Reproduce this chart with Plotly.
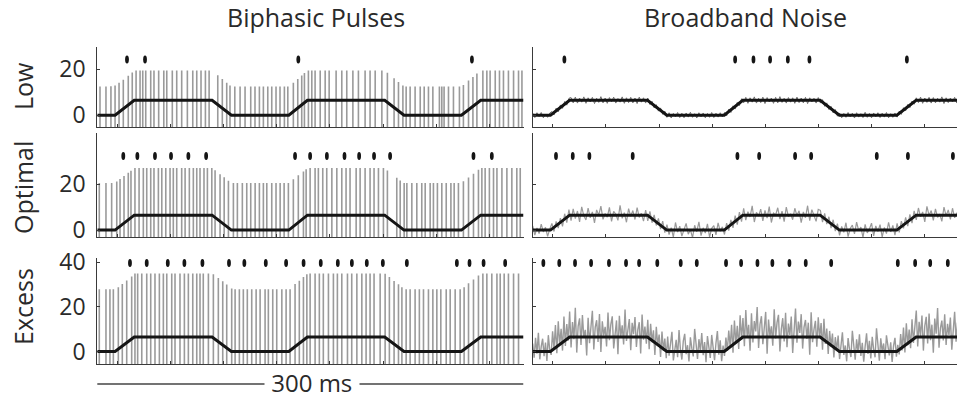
import plotly.graph_objects as go

# ---------------------------------------------------------------
# Stimulus envelope shared by every panel (time in ms)
# ---------------------------------------------------------------
stim_t = [0, 12.5, 26.0, 80.8, 94.4, 134.8, 147.9, 202.3, 215.9, 256.3, 269.9, 300]
stim_v = [0, 0, 6.5, 6.5, 0, 0, 6.5, 6.5, 0, 0, 6.5, 6.5]

# ---------------------------------------------------------------
# Biphasic pulse trains: (time ms, amplitude)
# ---------------------------------------------------------------
low_pulses = [
    (1.9, 12.5), (6.1, 12.5), (9.6, 12.6), (12.5, 13.0), (15.3, 14.2), (18.3, 15.5),
    (21.8, 17.2), (24.6, 18.6), (27.3, 19.5), (30.1, 19.5), (32.0, 19.5), (34.1, 19.5),
    (37.6, 19.5), (39.9, 19.5), (43.2, 19.5), (46.8, 19.5), (48.9, 19.5), (52.8, 19.5),
    (55.9, 19.5), (59.4, 19.5), (63.4, 19.5), (67.2, 19.5), (70.0, 19.5), (73.0, 19.5),
    (76.1, 19.5), (78.7, 19.5), (84.8, 17.4), (88.0, 15.8), (91.1, 14.2), (93.4, 13.0),
    (96.8, 12.5), (100.5, 12.5), (104.0, 12.5), (108.0, 12.5), (111.0, 12.5), (114.1, 12.5),
    (116.9, 12.5), (120.0, 12.5), (122.8, 12.5), (125.8, 12.5), (128.6, 12.5), (131.7, 12.5),
    (134.1, 12.5), (138.0, 14.2), (141.1, 15.8), (143.9, 17.3), (145.8, 18.4), (148.6, 19.5),
    (151.0, 19.5), (153.3, 19.5), (156.9, 19.5), (160.4, 19.5), (163.2, 19.5), (168.1, 19.5),
    (172.1, 19.5), (175.6, 19.5), (179.9, 19.5), (183.8, 19.5), (188.5, 19.5), (192.0, 19.5),
    (195.6, 19.5), (200.3, 19.5), (204.2, 18.5), (208.9, 16.1), (212.0, 14.5), (215.1, 12.9),
    (217.4, 12.5), (220.2, 12.5), (223.7, 12.5), (227.3, 12.5), (230.1, 12.5), (233.1, 12.5),
    (236.2, 12.5), (240.8, 12.5), (242.5, 12.5), (244.1, 12.5), (247.2, 12.5), (250.7, 12.5),
    (254.9, 12.5), (257.7, 13.2), (261.3, 15.1), (264.4, 16.7), (267.2, 18.2), (271.4, 19.5),
    (274.2, 19.5), (276.5, 19.5), (280.1, 19.5), (283.1, 19.5), (285.9, 19.5), (289.4, 19.5),
    (293.0, 19.5), (296.5, 19.5), (298.9, 19.5),
]

optimal_pulses = [
    (1.4, 20.5), (6.1, 20.5), (10.1, 20.5), (13.7, 21.1), (16.0, 22.2), (18.8, 23.5),
    (21.8, 24.9), (23.7, 25.8), (26.5, 27.0), (29.4, 27.0), (32.4, 27.0), (34.8, 27.0),
    (37.6, 27.0), (39.9, 27.0), (43.0, 27.0), (45.4, 27.0), (48.2, 27.0), (51.2, 27.0),
    (53.5, 27.0), (55.9, 27.0), (59.4, 27.0), (61.8, 27.0), (64.8, 27.0), (67.6, 27.0),
    (70.0, 27.0), (72.3, 27.0), (75.1, 27.0), (77.5, 27.0), (80.6, 27.0), (82.9, 26.0),
    (86.4, 24.3), (89.3, 23.0), (92.3, 21.5), (95.8, 20.5), (98.6, 20.5), (102.1, 20.5),
    (105.2, 20.5), (108.0, 20.5), (111.1, 20.5), (114.1, 20.5), (116.9, 20.5), (119.3, 20.5),
    (122.8, 20.5), (125.8, 20.5), (128.7, 20.5), (131.5, 20.5), (134.5, 20.5), (138.0, 22.1),
    (141.5, 23.8), (145.1, 25.5), (147.0, 26.4), (149.8, 27.0), (153.3, 27.0), (155.6, 27.0),
    (158.7, 27.0), (161.5, 27.0), (165.1, 27.0), (168.6, 27.0), (172.1, 27.0), (175.1, 27.0),
    (177.9, 27.0), (182.2, 27.0), (185.0, 27.0), (188.5, 27.0), (192.0, 27.0), (194.8, 27.0),
    (197.9, 27.0), (201.4, 27.0), (204.2, 25.9), (210.8, 22.8), (213.2, 21.6), (216.0, 20.5),
    (217.9, 20.5), (221.4, 20.5), (224.9, 20.5), (228.4, 20.5), (230.8, 20.5), (234.3, 20.5),
    (236.6, 20.5), (239.4, 20.5), (242.5, 20.5), (245.6, 20.5), (248.9, 20.5), (251.2, 20.5),
    (254.2, 20.5), (257.7, 21.2), (261.3, 22.9), (264.8, 24.5), (268.3, 26.2), (270.7, 27.0),
    (273.0, 27.0), (276.0, 27.0), (278.9, 27.0), (281.3, 27.0), (284.8, 27.0), (288.3, 27.0),
    (291.8, 27.0), (295.3, 27.0), (297.7, 27.0),
]

excess_pulses = [
    (1.4, 27.8), (6.1, 27.8), (8.9, 27.8), (11.3, 27.8), (14.8, 28.8), (17.6, 30.2),
    (20.7, 31.8), (24.2, 33.6), (26.5, 34.9), (28.4, 34.9), (31.3, 34.9), (34.8, 34.9),
    (37.6, 34.9), (40.6, 34.9), (43.7, 34.9), (46.5, 34.9), (48.9, 34.9), (52.4, 34.9),
    (54.7, 34.9), (58.2, 34.9), (61.3, 34.9), (64.1, 34.9), (67.2, 34.9), (70.0, 34.9),
    (72.3, 34.9), (74.6, 34.9), (78.2, 34.9), (81.7, 34.6), (85.2, 32.9), (88.3, 31.4),
    (91.1, 30.0), (94.6, 28.2), (97.0, 27.8), (100.0, 27.8), (102.8, 27.8), (105.6, 27.8),
    (108.7, 27.8), (111.8, 27.8), (114.6, 27.8), (118.1, 27.8), (120.4, 27.8), (123.5, 27.8),
    (126.3, 27.8), (129.9, 27.8), (132.9, 27.8), (135.7, 27.9), (139.2, 30.2), (142.2, 31.7),
    (145.1, 33.3), (147.5, 34.6), (149.8, 34.9), (153.3, 34.9), (156.3, 34.9), (159.1, 34.9),
    (162.7, 34.9), (166.2, 34.9), (169.0, 34.9), (172.1, 34.9), (176.1, 34.9), (179.1, 34.9),
    (182.7, 34.9), (186.2, 34.9), (189.2, 34.9), (192.0, 34.9), (194.8, 34.9), (199.1, 34.9),
    (202.6, 34.8), (205.6, 33.3), (208.9, 31.5), (212.0, 30.1), (214.4, 28.8), (217.4, 27.8),
    (220.2, 27.8), (223.7, 27.8), (226.7, 27.8), (229.6, 27.8), (233.1, 27.8), (236.2, 27.8),
    (239.0, 27.8), (241.8, 27.8), (245.6, 27.8), (248.4, 27.8), (251.9, 27.8), (255.4, 27.8),
    (258.2, 28.8), (261.3, 30.5), (264.8, 32.2), (268.3, 34.0), (271.4, 34.9), (274.2, 34.9),
    (277.7, 34.9), (281.3, 34.9), (283.6, 34.9), (286.4, 34.9), (289.4, 34.9), (293.0, 34.9),
    (296.5, 34.9),
]

# ---------------------------------------------------------------
# Broadband-noise responses (uniformly sampled)
# ---------------------------------------------------------------
low_noise_dt = 1.5
low_noise = [
    0.9, -1.0, 1.1, -0.6, 1.2, -1.1, 0.5, -0.9, 1.0,
    1.6, 0.1, 3.1, 1.5, 4.5, 3.0, 6.0, 4.4, 7.4,
    7.7, 5.4, 7.9, 5.3, 7.5, 5.7, 8.0, 5.2, 7.6, 5.8, 7.8, 5.1, 7.4, 5.6, 8.1, 5.4, 7.5, 5.2,
    7.7, 5.9, 7.9, 5.3, 7.3, 5.7, 8.0, 5.2, 7.6, 5.5, 7.8, 5.4, 7.5, 5.1, 7.9, 5.7, 7.6, 5.3,
    7.5, 4.7, 6.1, 3.2, 4.6, 1.8, 3.2, 0.4, 1.8,
    -0.9, 1.1, -1.2, 0.8, -0.7, 1.2, -1.0, 0.9, -1.1, 1.0, -0.8, 1.3, -0.9, 0.7, -1.2, 1.1,
    -0.7, 1.0, -1.1, 0.8, -0.9, 1.2, -1.0, 0.9, -0.8, 1.1, -0.7,
    1.2, -0.3, 2.7, 1.2, 4.1, 2.7, 5.6, 4.2, 7.2,
    5.4, 7.8, 5.2, 7.6, 5.7, 8.0, 5.3, 7.4, 5.5, 7.9, 5.1, 7.7, 5.8, 7.5, 5.2, 7.8, 5.4, 8.1,
    5.6, 7.4, 5.3, 7.7, 5.7, 7.6, 5.2, 7.9, 5.5, 7.5, 5.4, 7.8, 5.1, 7.6, 5.8, 7.4, 5.3, 7.7,
    5.3, 6.8, 3.9, 5.4, 2.5, 3.9, 1.0, 2.5, -0.4,
    1.0, -1.1, 0.8, -0.9, 1.2, -0.7, 0.9, -1.2, 1.1, -0.8, 0.7, -1.0, 1.3, -0.9, 0.8, -1.1,
    1.0, -0.7, 1.1, -1.0, 0.9, -0.8, 1.2, -1.1, 0.7, -0.9, 1.0,
    -0.8, 1.8, 0.4, 3.3, 1.9, 4.7, 3.3, 6.2, 4.8,
    7.6, 5.5, 7.9, 5.2, 7.5, 5.6, 7.8, 5.3, 7.7, 5.4, 7.4, 5.7, 8.0, 5.1, 7.6, 5.5, 7.5, 5.8,
    7.8, 5.3,
]

optimal_noise_dt = 1.5
optimal_noise = [
    1.8, -2.2, 0.9, -1.5, 2.6, -0.8, 1.2, -2.7, 0.4,
    2.9, -0.6, 3.8, 0.9, 5.2, 1.6, 7.1, 3.2, 8.9,
    4.1, 9.2, 5.0, 8.3, 3.6, 10.1, 6.2, 4.4, 9.6, 5.3, 7.9, 3.1, 8.8, 6.5, 10.4, 4.7, 7.2, 5.6,
    9.9, 3.8, 8.1, 6.9, 4.2, 10.8, 5.1, 7.6, 3.4, 9.3, 6.0, 8.5, 4.6, 9.8, 5.5, 7.3, 3.9, 8.7,
    4.0, 8.1, 3.2, 6.6, 2.0, 5.1, 0.4, 3.9, -1.1,
    2.4, -2.0, 1.1, -3.1, 3.3, -0.9, 1.7, -2.6, 0.6, 2.9, -1.8, 0.2, -3.3, 2.1, -0.7, 3.6,
    -2.4, 1.0, -1.3, 2.7, -3.0, 0.8, 1.9, -2.1, 3.1, -0.5, 1.4,
    -1.9, 3.0, -0.2, 4.4, 1.0, 6.3, 2.4, 7.8, 3.7,
    9.4, 4.3, 8.0, 5.7, 10.5, 3.5, 7.7, 6.1, 9.1, 4.0, 8.6, 5.2, 10.2, 3.3, 7.4, 6.6, 9.7, 4.8,
    8.2, 3.7, 10.0, 5.9, 7.1, 4.5, 9.5, 6.3, 8.4, 3.2, 7.9, 5.4, 10.6, 4.1, 8.9, 6.0, 3.8, 9.0,
    8.6, 3.5, 7.3, 2.6, 5.8, 0.9, 4.5, -0.4, 2.8,
    -2.3, 1.6, -1.0, 3.2, -2.8, 0.7, 2.2, -1.6, 3.5, -0.3, 1.3, -3.2, 2.5, -1.2, 0.5, 3.0,
    -2.5, 1.8, -0.6, 2.4, -3.0, 1.1, -1.5, 3.4, -0.8, 2.0, -2.2,
    2.9, -1.0, 3.9, 0.8, 5.5, 1.7, 6.8, 3.0, 8.4,
    4.4, 9.6, 5.8, 7.9, 3.6, 10.3, 6.4, 8.5, 4.2, 9.2, 5.5, 7.0, 3.8, 10.0, 6.2, 8.8, 4.7, 9.5,
    5.3, 7.6,
]

excess_noise_dt = 1.0
excess_noise = [
    3.5, -2.8, 6.1, -1.0, 8.4, -3.5, 2.2, 5.7, -2.1, 4.0, -4.2, 7.3, 0.5,
    -1.5, 9.0, 1.2, 11.8, -0.8, 13.5, 3.0, 10.2, 0.4, 15.6, 2.5, 12.3, 4.8,
    17.9, 1.8, 13.2, 5.5, 19.6, -0.5, 11.4, 14.8, 2.9, 16.3, 6.0, 9.7, -1.8, 15.1, 3.7, 12.6,
    18.2, 0.9, 10.8, 14.0, 4.3, 16.8, -0.2, 13.5, 7.1, 11.0, 2.2, 17.4, 5.0, 12.1, 15.7, 1.4,
    9.3, 13.9, -1.2, 16.0, 6.6, 11.7, 3.1, 18.8, 4.7, 10.4, 14.5, 0.6, 12.8, 7.7, 15.4, 2.0,
    9.8, 13.1, -0.9, 16.5, 5.3, 11.2, 3.5,
    14.2, 1.0, 12.4, 4.1, 9.5, -1.6, 11.1, 2.7, 7.6, -2.4, 8.9, 0.3, 5.8, -3.0,
    6.7, -1.9, 3.4, 8.8, -4.0, 2.1, 5.2, -2.6, 9.6, 0.8, -3.6, 4.6, 7.9, -1.2, 2.8, -4.5,
    6.3, 1.5, -2.2, 10.1, 3.0, -3.3, 5.5, 0.1, 8.2, -1.7, 4.2, -4.8, 6.9, 2.4, -2.9, 7.4,
    0.7, -3.9, 3.8, 9.1, -1.4, 5.0, -4.3, 2.6,
    -2.0, 6.2, 0.2, 9.4, 2.0, 12.0, -0.6, 13.8, 3.6, 11.5, 1.1, 16.2, 5.2,
    15.0, 2.4, 18.5, 6.4, 11.9, 0.3, 17.1, 4.0, 13.6, 9.0, 19.9, 1.6, 12.2, 15.8, 3.3, 10.6,
    17.7, -1.0, 14.3, 6.8, 11.3, 2.6, 18.9, 5.8, 13.0, 16.4, 0.0, 10.0, 14.9, 4.5, 17.3, 1.9,
    12.5, 7.4, 15.6, -0.7, 11.8, 19.2, 3.9, 13.4, 8.3, 16.7, 1.3, 10.9, 14.1, 5.6, 12.9, -1.4,
    17.6, 4.2, 9.9, 13.7, 2.1, 15.3, 6.2,
    12.7, 0.8, 14.6, 3.4, 10.3, -1.1, 9.2, 2.3, 8.0, -2.7, 6.4, 0.6, 7.1,
    -3.4, 4.4, 8.6, -1.5, 2.7, -4.4, 6.0, 1.0, -2.5, 9.3, 3.3, -3.7, 5.4, -0.4, 7.7, -2.0,
    3.9, -4.6, 2.3, 8.1, -1.1, 4.8, -3.1, 6.6, 0.9, -2.6, 10.4, 2.9, -4.1, 5.9, -0.2, 3.6,
    -3.5, 7.2, 1.2, -1.8, 4.1, -4.7, 2.5, 6.1, -2.3,
    3.0, -1.3, 7.8, 0.5, 10.7, -0.4, 12.6, 2.8, 9.8, 1.5, 14.4, 3.8, 11.6,
    18.3, 2.2, 13.3, 6.9, 16.1, 0.4, 11.5, 15.5, 3.6, 17.0, 5.1, 12.0, -0.6, 14.7, 8.0, 19.4,
    1.7, 10.5, 13.8, 4.9, 16.6, 2.9, 12.4, 7.3, 15.2, 0.8, 11.1, 17.8, 4.4, 13.0,
]

# ---------------------------------------------------------------
# Spike times (ms)
# ---------------------------------------------------------------
spikes = {
    ("Low", "pulse"): [20.9, 33.6, 141.5, 263.7],
    ("Low", "noise"): [22.3, 142.5, 155.4, 167.1, 179.6, 194.8, 263.4],
    ("Optimal", "pulse"): [18.3, 28.2, 40.6, 51.9, 64.1, 76.6, 139.2, 149.8, 161.6, 174.0,
                           184.3, 194.8, 206.1, 264.8, 277.7],
    ("Optimal", "noise"): [16.4, 28.2, 39.9, 70.4, 144.1, 159.4, 184.7, 196.0, 242.2, 264.1,
                           295.8],
    ("Excess", "pulse"): [23.0, 34.8, 49.6, 61.3, 74.0, 92.7, 103.5, 118.6, 132.9, 145.2,
                          157.3, 169.3, 179.2, 189.7, 201.0, 217.9, 253.1, 262.0, 271.9, 287.1],
    ("Excess", "noise"): [7.5, 18.7, 29.8, 41.1, 53.7, 65.7, 74.9, 87.7, 104.2, 115.5, 136.1,
                          146.7, 158.2, 168.7, 180.7, 192.2, 210.1, 257.0, 269.2, 279.8, 292.2],
}

row_names = ["Low", "Optimal", "Excess"]
col_titles = ["Biphasic Pulses", "Broadband Noise"]
row_ytick_vals = [[0, 20], [0, 20], [0, 20, 40]]
row_ytick_text = [["0", "20"], ["0", "20"], ["0", "20", "40"]]
x_tick_vals = [14.1, 51.5, 88.9, 126.3, 163.7, 201.1, 238.5, 275.9]
scale_bar_ms = 300

# ---------------------------------------------------------------
# Layout geometry
# ---------------------------------------------------------------
W, H = 957, 399
row_y_px = [(47, 127), (133, 237), (258.3, 364)]          # top, bottom in pixels
row_y_range = [(-5.1, 29.7), (-3.0, 42.2), (-5.6, 41.7)]
raster_y = [24.3, 32.2, 39.6]
col_x_px = [(97.3, 523.5), (532.7, 957)]
ms_per_px = 300 / (523.5 - 97.3)
spike_w_px, spike_h_px = 3.8, 8.0

INK = "#151515"
AXIS = "#3a3a3a"
GREY = "#9a9a9a"
LOW_NOISE = "#6e6e6e"
FONT = "Open Sans"
TEXT = "#2a2a2a"

pulse_sets = [low_pulses, optimal_pulses, excess_pulses]
noise_sets = [(low_noise, low_noise_dt, LOW_NOISE, 1.0),
              (optimal_noise, optimal_noise_dt, GREY, 1.2),
              (excess_noise, excess_noise_dt, GREY, 1.4)]

fig = go.Figure()
layout_axes = {}
shapes = []


def axis_names(r, c):
    n = r * 2 + c + 1
    suffix = "" if n == 1 else str(n)
    return "x" + suffix, "y" + suffix, "xaxis" + suffix, "yaxis" + suffix


for r, row in enumerate(row_names):
    top_px, bot_px = row_y_px[r]
    y_lo, y_hi = row_y_range[r]
    units_per_px = (y_hi - y_lo) / (bot_px - top_px)
    for c in range(2):
        xref, yref, xkey, ykey = axis_names(r, c)
        x0_px, x1_px = col_x_px[c]

        if c == 0:
            xs, ys = [], []
            for t, h in pulse_sets[r]:
                xs += [t, t, None]
                ys += [-h, h, None]
            fig.add_trace(go.Scatter(x=xs, y=ys, mode="lines", xaxis=xref, yaxis=yref,
                                     line=dict(color=GREY, width=1.6), hoverinfo="skip"))
        else:
            vals, dt, colour, lw = noise_sets[r]
            fig.add_trace(go.Scatter(x=[i * dt for i in range(len(vals))], y=vals,
                                     mode="lines", xaxis=xref, yaxis=yref,
                                     line=dict(color=colour, width=lw), hoverinfo="skip"))

        fig.add_trace(go.Scatter(x=stim_t, y=stim_v, mode="lines", xaxis=xref, yaxis=yref,
                                 line=dict(color=INK, width=3), hoverinfo="skip"))

        # spike raster: small filled ellipses placed on the panel's own axes
        half_w = spike_w_px / 2 * ms_per_px
        half_h = spike_h_px / 2 * units_per_px
        for t in spikes[(row, "pulse" if c == 0 else "noise")]:
            shapes.append(dict(type="circle", xref=xref, yref=yref,
                               x0=t - half_w, x1=t + half_w,
                               y0=raster_y[r] - half_h, y1=raster_y[r] + half_h,
                               fillcolor=INK, line=dict(width=0), layer="above"))

        layout_axes[xkey] = dict(
            domain=[x0_px / W, x1_px / W],
            range=[0, (x1_px - x0_px) * ms_per_px],
            anchor=yref, showline=True, linecolor=AXIS, linewidth=1.3,
            ticks="inside", ticklen=3, tickcolor=AXIS, tickwidth=1,
            tickvals=x_tick_vals, showticklabels=False, automargin=False,
            showgrid=False, zeroline=False, fixedrange=True,
        )
        layout_axes[ykey] = dict(
            domain=[1 - bot_px / H, 1 - top_px / H],
            range=[y_lo, y_hi],
            anchor=xref, showline=True, linecolor=AXIS, linewidth=1.3,
            ticks="inside", ticklen=3, tickcolor=AXIS, tickwidth=1,
            tickvals=row_ytick_vals[r], ticktext=row_ytick_text[r],
            showticklabels=(c == 0), ticklabelstandoff=6, automargin=False,
            tickfont=dict(family=FONT, size=23, color=TEXT),
            showgrid=False, zeroline=False, fixedrange=True,
        )

annotations = []
title_x_px = [316, 745]
for c, title in enumerate(col_titles):
    annotations.append(dict(text=title, x=title_x_px[c] / W, y=1 - 17 / H,
                            xref="paper", yref="paper", showarrow=False,
                            xanchor="center", yanchor="middle",
                            font=dict(family=FONT, size=25, color=TEXT)))

row_label_y_px = [86, 188, 307]
for r, row in enumerate(row_names):
    annotations.append(dict(text=row, x=23 / W, y=1 - row_label_y_px[r] / H,
                            xref="paper", yref="paper", showarrow=False, textangle=-90,
                            xanchor="center", yanchor="middle",
                            font=dict(family=FONT, size=25, color=TEXT)))

# 300 ms scale bar under the bottom-left panel, with a gap around its label
bar_y = 1 - 384 / H
annotations.append(dict(text="\u00a0300 ms\u00a0", x=scale_bar_ms / 2 + 1, y=1 - 382.5 / H,
                        xref="x5", yref="paper",
                        showarrow=False, xanchor="center", yanchor="middle",
                        bgcolor="white", borderpad=0,
                        font=dict(family=FONT, size=24, color=TEXT)))
shapes.append(dict(type="line", xref="x5", yref="paper", x0=-3, x1=scale_bar_ms,
                   y0=bar_y, y1=bar_y, line=dict(color="#444444", width=1.5), layer="below"))

fig.update_layout(
    width=W, height=H, margin=dict(l=0, r=0, t=0, b=0, autoexpand=False),
    paper_bgcolor="white", plot_bgcolor="white", showlegend=False,
    annotations=annotations, shapes=shapes, **layout_axes,
)

fig.write_html("out.html")
